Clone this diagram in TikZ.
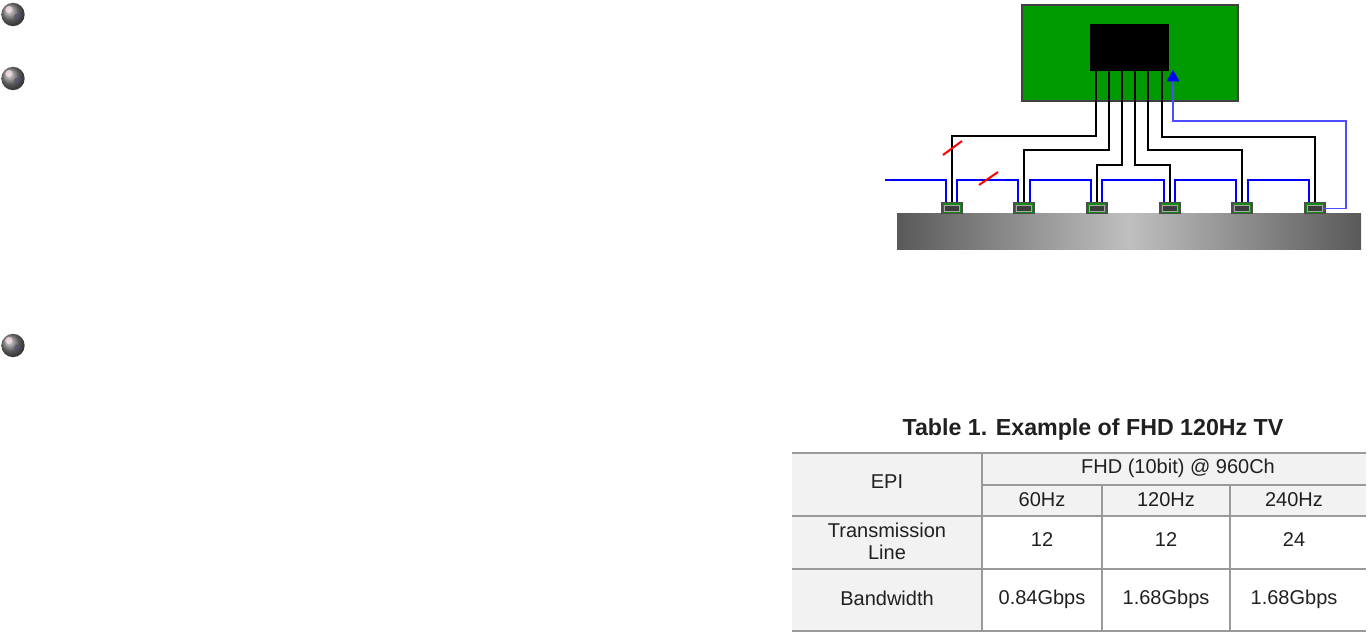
\documentclass[tikz,border=0pt]{standalone}
\usepackage{fontspec}
\setmainfont{Liberation Sans}
\usetikzlibrary{arrows.meta}
\definecolor{pcbgreen}{HTML}{009900}
\definecolor{chipgreen}{HTML}{148A14}
\definecolor{chipdark}{HTML}{3C3C3C}
\definecolor{cellgray}{HTML}{F2F2F2}
\definecolor{rulegray}{HTML}{9A9A9A}
\definecolor{txt}{HTML}{202020}
\definecolor{sigblue}{HTML}{0000FF}
\definecolor{retblue}{HTML}{4D4DFF}
\definecolor{ballhi}{HTML}{F4D8DC}
\definecolor{ballspot}{HTML}{5A4A78}
\tikzset{
  x=0.75pt,y=-0.75pt,
  wire/.style={draw=black,line width=1.35pt,line join=miter,preaction={draw=black!22,line width=2pt}},
  sig/.style={draw=sigblue,line width=0.95pt,line join=miter},
  ret/.style={draw=retblue,line width=0.95pt,line join=miter},
  slash/.style={draw=red,line width=1.5pt},
  chipouter/.style={draw=black!70,line width=1.1pt,fill=chipgreen,minimum width=15pt,minimum height=8.6pt,inner sep=0pt,outer sep=0pt},
  chipinner/.style={draw=black!35,line width=0.7pt,fill=chipdark,minimum width=11.5pt,minimum height=5pt,inner sep=0pt,outer sep=0pt},
  cell/.style={font=\fontsize{15}{16.5}\selectfont,text=txt,align=center,inner sep=0pt},
  rulel/.style={draw=rulegray,line width=0.9pt},
  ballnode/.style={circle,minimum size=17.5pt,inner sep=0pt,ball color=black!50,draw=none}
}
\begin{document}
\begin{tikzpicture}
\useasboundingbox (0,0) rectangle (1370,636);
% bullets
\foreach \n/\by in {1/14.5,2/78.5,3/345.5}{
  \node[ballnode] (b\n) at (13,\by) {};
  \shade[inner color=ballhi,outer color=ballhi,opacity=0.8] (9,\by-5) circle (3.5);
  \fill[ballspot,opacity=0.6] (17,\by+2) circle (3);
}
% board
\node[draw=black!75,line width=1.3pt,fill=pcbgreen,minimum width=161.5pt,minimum height=71.5pt,inner sep=0pt,outer sep=0pt] (board) at (1130,53) {};
\node[fill=black,minimum width=59.25pt,minimum height=35.25pt,inner sep=0pt,outer sep=0pt] (ic) at (1129.5,47.5) {};
% bar
\node[left color=black!65,right color=black!65,middle color=black!25,minimum width=348pt,minimum height=27pt,inner sep=0pt,outer sep=0pt] (bar) at (1129,231) {};
% wire start points on the IC
\coordinate (p1) at (1096,71);
\coordinate (p2) at (1109,71);
\coordinate (p3) at (1122,71);
\coordinate (p4) at (1135,71);
\coordinate (p5) at (1148,71);
\coordinate (p6) at (1162,71);
\coordinate (tip) at (1173,70);
% chips
\foreach \n/\cx in {1/952,2/1024,3/1097,4/1170,5/1242,6/1315}{
  \node[chipouter] (c\n) at (\cx,208) {};
}
% black wires
\draw[wire] (p1) |- (952,136) -- (c1.north);
\draw[wire] (p2) |- (1024,150) -- (c2.north);
\draw[wire] (p3) |- (1097,165) -- (c3.north);
\draw[wire] (p4) |- (1170,165) -- (c4.north);
\draw[wire] (p5) |- (1242,150) -- (c5.north);
\draw[wire] (p6) |- (1315,137) -- (c6.north);
% blue daisy chain
\coordinate (in) at (885,180);
\draw[sig] (in) -| (946,202);
\draw[sig] (957,202) |- (1018,180) -- (1018,202);
\draw[sig] (1030,202) |- (1091,180) -- (1091,202);
\draw[sig] (1102,202) |- (1164,180) -- (1164,202);
\draw[sig] (1175,202) |- (1236,180) -- (1236,202);
\draw[sig] (1248,202) |- (1309,180) -- (1309,202);
\foreach \n/\cx in {1/952,2/1024,3/1097,4/1170,5/1242,6/1315}{
  \node[chipinner] (i\n) at (\cx,208.5) {};
}
% return
\draw[ret,-{Triangle[length=8.5pt,width=9.5pt,color=sigblue,fill=sigblue]}] (i6.east) -| (1346,121) -| (tip);
% slashes
\coordinate (s1a) at (943,155); \coordinate (s1b) at (962,141);
\coordinate (s2a) at (979,185); \coordinate (s2b) at (998,172);
\draw[slash] (s1a) -- (s1b);
\draw[slash] (s2a) -- (s2b);
% table
\fill[cellgray] (792,453) rectangle (1366,516);
\fill[cellgray] (792,516) rectangle (982,631);
\draw[rulel] (792,453) -- (1366,453);
\draw[rulel] (982,485) -- (1366,485);
\draw[rulel] (792,516) -- (1366,516);
\draw[rulel] (792,569) -- (1366,569);
\draw[rulel] (792,631) -- (1366,631);
\draw[rulel] (982,453) -- (982,631);
\draw[rulel] (1102,485) -- (1102,631);
\draw[rulel] (1230,485) -- (1230,631);
\node[font=\bfseries\fontsize{17.4}{20}\selectfont,text=txt,inner sep=0pt] (title) at (1093,429.5) {Table 1. Example of FHD 120Hz TV};
\node[cell] (t1) at (887,482) {EPI};
\node[cell] (t2) at (1178,468) {FHD (10bit) @ 960Ch};
\node[cell] (t3) at (1042,500) {60Hz};
\node[cell] (t4) at (1166,500) {120Hz};
\node[cell] (t5) at (1294,500) {240Hz};
\node[cell] (t6) at (887,541) {Transmission\\Line};
\node[cell] (t7) at (1042,540) {12};
\node[cell] (t8) at (1166,540) {12};
\node[cell] (t9) at (1294,540) {24};
\node[cell] (t10) at (887,598) {Bandwidth};
\node[cell] (t11) at (1042,599) {0.84Gbps};
\node[cell] (t12) at (1166,599) {1.68Gbps};
\node[cell] (t13) at (1294,599) {1.68Gbps};
\end{tikzpicture}
\end{document}
